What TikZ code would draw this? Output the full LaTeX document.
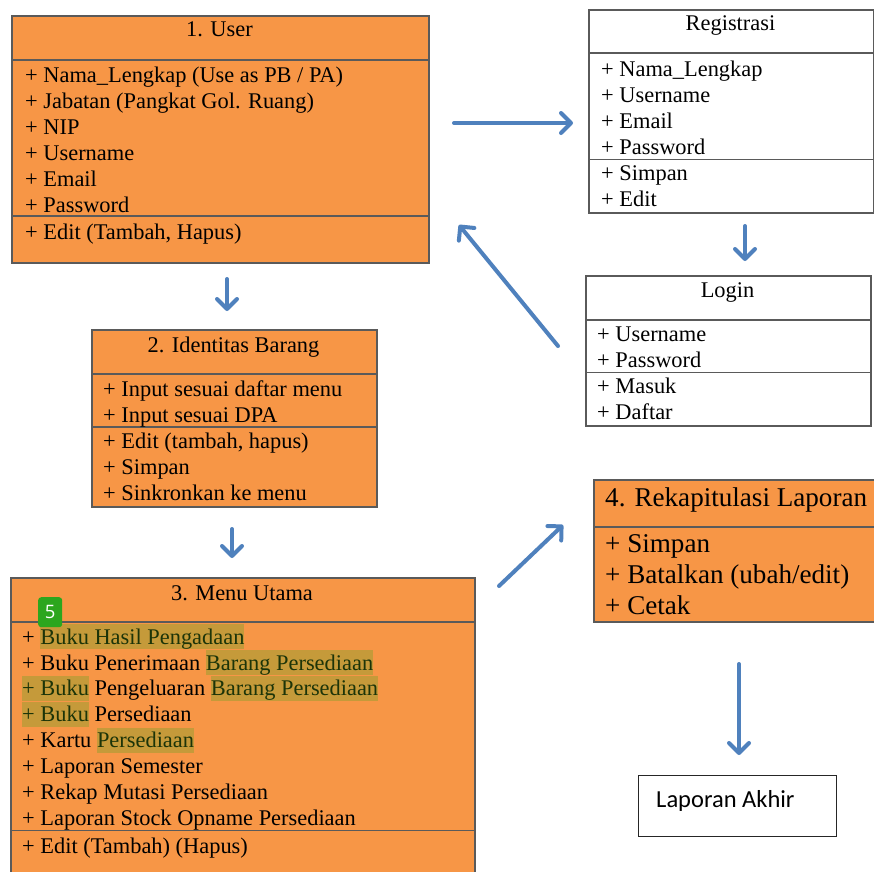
\documentclass[tikz,border=0pt]{standalone}
\usepackage{fontspec}
\setmainfont{Liberation Serif}
\newfontfamily\calibri{Carlito}
\newfontfamily\tagfont{Open Sans}
\usetikzlibrary{arrows.meta}

\definecolor{boxorange}{HTML}{F79646}
\definecolor{arrowblue}{HTML}{4F81BD}
\definecolor{rulegray}{HTML}{5A5A5A}
\definecolor{hlfill}{RGB}{197,154,58}
\definecolor{hltext}{RGB}{28,52,8}
\definecolor{taggreen}{RGB}{44,166,30}

% highlighted run of text; smashed so the line spacing is unchanged
\newcommand{\hlbox}[1]{\smash{\setlength{\fboxsep}{0pt}\colorbox{hlfill}{\rule[-5pt]{0pt}{25pt}\color{hltext}#1}}}

\tikzset{
  clsbox/.style={draw=rulegray, line width=1.5pt, rectangle, inner sep=0pt, anchor=north west},
  sepline/.style={draw=rulegray, line width=1.5pt},
  body/.style={anchor=north west, inner sep=0pt, align=left, font=\fontsize{22.4}{26}\selectfont},
  head/.style={anchor=base, inner sep=0pt, font=\fontsize{22.4}{26}\selectfont},
  bigbody/.style={anchor=north west, inner sep=0pt, align=left, font=\fontsize{27.1}{31}\selectfont},
  flow/.style={draw=arrowblue, line width=4pt, line cap=round,
    -{Straight Barb[length=10pt,width=20pt,round]}},
}

\begin{document}
\begin{tikzpicture}[x=1pt,y=-1pt]
\useasboundingbox (0,0) rectangle (874,871);
\fill[white] (0,0) rectangle (874,871);

% ---- 1. User
\node[clsbox, fill=boxorange, minimum width=417pt, minimum height=247pt] (user) at (11,15) {};
\draw[sepline] (11,60) -- (428,60);
\draw[sepline] (11,216) -- (428,216);
\node[head] (userT) at (219.5,36) {1. User};
\node[body] (userA) at (25,63.8) {\strut + Nama\_Lengkap (Use as PB / PA)\\
  \strut + Jabatan (Pangkat Gol. Ruang)\\
  \strut + NIP\\
  \strut + Username\\
  \strut + Email\\
  \strut + Password};
\node[body] (userM) at (25,220.8) {\strut + Edit (Tambah, Hapus)};

% ---- Registrasi
\node[clsbox, fill=white, minimum width=285pt, minimum height=203pt] (reg) at (588,9) {};
\draw[sepline] (588,53) -- (873,53);
\draw[sepline] (588,159.5) -- (873,159.5);
\node[head] (regT) at (730.5,30) {Registrasi};
\node[body] (regA) at (601,58.3) {\strut + Nama\_Lengkap\\
  \strut + Username\\
  \strut + Email\\
  \strut + Password};
\node[body] (regM) at (601,161.8) {\strut + Simpan\\
  \strut + Edit};

% ---- Login
\node[clsbox, fill=white, minimum width=285pt, minimum height=150pt] (login) at (585,275) {};
\draw[sepline] (585,320) -- (870,320);
\draw[sepline] (585,372.5) -- (870,372.5);
\node[head] (loginT) at (727.5,297) {Login};
\node[body] (loginA) at (597,323.3) {\strut + Username\\
  \strut + Password};
\node[body] (loginM) at (597,374.8) {\strut + Masuk\\
  \strut + Daftar};

% ---- 2. Identitas Barang
\node[clsbox, fill=boxorange, minimum width=285pt, minimum height=177pt] (ident) at (91,329) {};
\draw[sepline] (91,374) -- (376,374);
\draw[sepline] (91,427) -- (376,427);
\node[head] (identT) at (233.5,352) {2. Identitas Barang};
\node[body] (identA) at (103,377.8) {\strut + Input sesuai daftar menu\\
  \strut + Input sesuai DPA};
\node[body] (identM) at (103,429.8) {\strut + Edit (tambah, hapus)\\
  \strut + Simpan\\
  \strut + Sinkronkan ke menu};

% ---- 3. Menu Utama
\node[clsbox, fill=boxorange, minimum width=464pt, minimum height=310pt] (menu) at (10,577) {};
\draw[sepline] (10,622) -- (474,622);
\draw[sepline] (10,830.5) -- (474,830.5);
\node[head] (menuT) at (242,600) {3. Menu Utama};
\node[body, font=\fontsize{22.4}{25.9}\selectfont] (menuA) at (22,625.8) {\strut + \hlbox{Buku Hasil Pengadaan}\\
  \strut + Buku Penerimaan \hlbox{Barang Persediaan}\\
  \strut\hlbox{+ Buku} Pengeluaran \hlbox{Barang Persediaan}\\
  \strut\hlbox{+ Buku} Persediaan\\
  \strut + Kartu \hlbox{Persediaan}\\
  \strut + Laporan Semester\\
  \strut + Rekap Mutasi Persediaan\\
  \strut + Laporan Stock Opname Persediaan};
\node[body] (menuM) at (22,834.8) {\strut + Edit (Tambah) (Hapus)};
\node[fill=taggreen, rounded corners=3pt, minimum width=24pt, minimum height=30pt,
  anchor=north west, inner sep=0pt, text=white,
  font=\tagfont\fontsize{18.5}{22}\selectfont] (tag) at (38,597) {5};

% ---- 4. Rekapitulasi Laporan
\node[clsbox, fill=boxorange, minimum width=290pt, minimum height=142pt] (rekap) at (593,479) {};
\draw[sepline] (593,527) -- (883,527);
\node[anchor=base west, inner sep=0pt, font=\fontsize{27.1}{31}\selectfont] (rekapT) at (605,506) {4. Rekapitulasi Laporan};
\node[bigbody] (rekapM) at (605,530.3) {\strut + Simpan\\
  \strut + Batalkan (ubah/edit)\\
  \strut + Cetak};

% ---- Laporan Akhir
\node[clsbox, fill=white, line width=1.2pt, draw=black!85, minimum width=198pt, minimum height=61pt] (akhir) at (638,775) {};
\node[anchor=base west, inner sep=0pt, font=\calibri\fontsize{24.5}{29}\selectfont] (akhirT) at (656,807) {Laporan Akhir};

% ---- flow arrows
\coordinate (a1s) at (454,123);  \coordinate (a1e) at (573,123);
\coordinate (a2s) at (745,226);  \coordinate (a2e) at (745,261);
\coordinate (a3s) at (558,346);  \coordinate (a3e) at (459,225);
\coordinate (a4s) at (227,279);  \coordinate (a4e) at (227,311);
\coordinate (a5s) at (232,529);  \coordinate (a5e) at (232,558);
\coordinate (a6s) at (499,586);  \coordinate (a6e) at (563,525);
\coordinate (a7s) at (739,664);  \coordinate (a7e) at (739,755);
\draw[flow] (a1s) -- (a1e);
\draw[flow] (a2s) -- (a2e);
\draw[flow] (a3s) -- (a3e);
\draw[flow] (a4s) -- (a4e);
\draw[flow] (a5s) -- (a5e);
\draw[flow] (a6s) -- (a6e);
\draw[flow] (a7s) -- (a7e);
\end{tikzpicture}
\end{document}
